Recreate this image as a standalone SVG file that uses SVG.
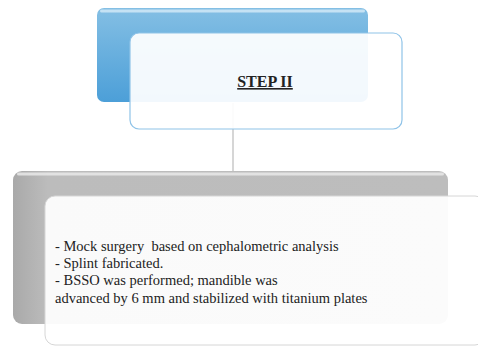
<svg xmlns="http://www.w3.org/2000/svg" width="478" height="347" viewBox="0 0 478 347">
<defs>
<linearGradient id="gBlue" x1="0" y1="0" x2="0" y2="1">
<stop offset="0" stop-color="#84bfe4"/>
<stop offset="1" stop-color="#4c9fd8"/>
</linearGradient>
<linearGradient id="gGray" x1="0" y1="0" x2="1" y2="0">
<stop offset="0" stop-color="#a9a9a9"/>
<stop offset="0.08" stop-color="#bcbcbc"/>
<stop offset="1" stop-color="#bdbdbd"/>
</linearGradient>
<style>
.lbl{font-family:"Liberation Serif","Times New Roman",serif;fill:#222;white-space:pre}
.body{font-size:14.5px}
.card{fill:#ffffff;fill-opacity:0.93}
</style>
</defs>
<rect width="478" height="347" fill="#ffffff"/>
<g id="connectors">
<line x1="233" y1="103" x2="233" y2="171" stroke="#c8c8c8" stroke-width="1.5"/>
</g>
<g id="node-step2">
<rect x="97" y="8" width="271" height="94" rx="7" fill="url(#gBlue)"/>
<rect x="100" y="9.5" width="265" height="3" rx="1.5" fill="#d6ebf8" opacity="0.8"/>
<rect x="130" y="33" width="272" height="96" rx="9" class="card" stroke="#8fc3e8" stroke-width="1.2"/>
<text class="lbl" x="265" y="87" text-anchor="middle" font-size="16" font-weight="bold" text-decoration="underline">STEP II</text>
</g>
<g id="node-details">
<rect x="13" y="171" width="435" height="153" rx="9" fill="url(#gGray)"/>
<rect x="17" y="172.5" width="427" height="3" rx="1.5" fill="#e6e6e6" opacity="0.9"/>
<rect x="45" y="196" width="440" height="149" rx="10" class="card" stroke="#d6d6d6" stroke-width="1"/>
<text class="lbl body" x="55" y="251" xml:space="preserve">- Mock surgery  based on cephalometric analysis</text>
<text class="lbl body" x="55" y="268">- Splint fabricated.</text>
<text class="lbl body" x="55" y="285">- BSSO was performed; mandible was</text>
<text class="lbl body" x="55" y="303">advanced by 6 mm and stabilized with titanium plates</text>
</g>
</svg>
